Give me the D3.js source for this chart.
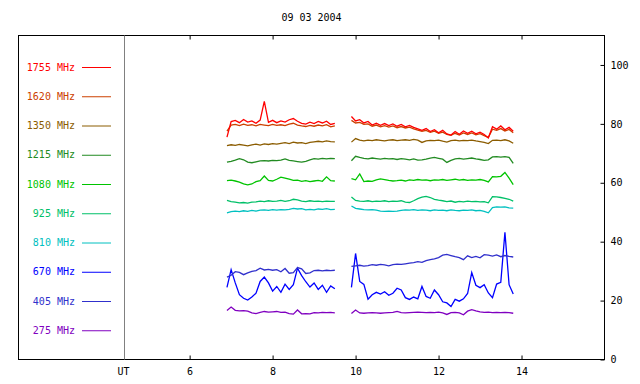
<!DOCTYPE html>
<html>
<head>
<meta charset="utf-8">
<script src="https://cdn.jsdelivr.net/npm/d3@7"></script>
<style>
  body { margin: 0; background: #fff; }
  svg { display: block; }
  text { font-family: "DejaVu Sans Mono", monospace; font-size: 10px; }
  .trace { fill: none; stroke-width: 1.3; }
</style>
</head>
<body>
<div id="chart"></div>
<script>
// sample times (UT hours) of the two recording blocks
var hoursA = d3.range(27).map(function(i) { return +(6.9 + i * 0.1).toFixed(1); });
var hoursB = d3.range(40).map(function(i) { return +(9.9 + i * 0.1).toFixed(1); });

var xTicks = [6, 8, 10, 12, 14];
var yTicks = [0, 20, 40, 60, 80, 100];
var title = "09 03 2004";

var freqs = ["1755", "1620", "1350", "1215", "1080", "925", "810", "670", "405", "275"];
var colors = ["#ff0000", "#cc4000", "#8b5c00", "#228b22", "#00c400", "#00c068", "#00c0c0", "#0000ff", "#3030cc", "#8000c0"];

// flux values per frequency, block A then block B
var mhz1755a = [75.5, 80.8, 81.2, 80.4, 81.5, 80.6, 81.0, 80.2, 81.3, 87.6, 80.5, 81.2, 80.4, 81.0, 80.6, 81.4, 81.8, 80.9, 80.2, 79.9, 80.6, 80.1, 80.8, 80.3, 80.9, 79.8, 80.2];
var mhz1755b = [82.5, 81.0, 81.4, 80.3, 80.8, 79.6, 80.2, 79.5, 80.1, 79.4, 80.0, 79.2, 79.8, 79.0, 79.5, 78.8, 78.3, 77.8, 78.4, 77.4, 78.0, 77.0, 77.8, 76.6, 76.2, 77.4, 76.5, 77.6, 76.8, 77.5, 76.6, 77.2, 76.4, 75.2, 79.0, 78.2, 79.3, 78.0, 78.8, 77.5];
var mhz1620a = [77.5, 79.6, 79.8, 79.4, 79.9, 79.5, 79.7, 79.3, 79.8, 79.6, 79.4, 79.8, 79.5, 79.7, 79.4, 79.9, 80.2, 79.6, 79.3, 79.1, 79.5, 79.2, 79.6, 79.3, 79.7, 79.0, 79.3];
var mhz1620b = [81.2, 80.3, 80.5, 79.8, 80.0, 79.2, 79.6, 79.0, 79.4, 78.9, 79.3, 78.7, 79.1, 78.6, 78.9, 78.3, 77.9, 77.5, 77.8, 77.1, 77.5, 76.8, 77.2, 76.4, 76.1, 76.8, 76.2, 76.9, 76.4, 76.9, 76.3, 76.7, 76.0, 75.4, 78.2, 77.8, 78.4, 77.6, 78.1, 77.0];
var mhz1350a = [72.6, 72.9, 72.7, 73.0, 72.8, 72.5, 72.9, 73.1, 72.8, 73.2, 73.0, 73.3, 73.1, 73.4, 73.6, 73.3, 73.8, 73.5, 73.6, 73.3, 73.7, 73.9, 74.1, 73.9, 74.2, 74.0, 73.9];
var mhz1350b = [73.8, 75.0, 74.5, 74.2, 74.5, 74.3, 74.6, 74.4, 74.2, 74.5, 74.6, 74.3, 74.5, 74.6, 74.4, 74.7, 74.5, 73.7, 74.2, 74.4, 74.3, 74.5, 74.1, 73.8, 74.3, 74.5, 74.2, 74.4, 74.3, 74.5, 74.2, 74.0, 73.7, 73.3, 74.4, 74.5, 74.3, 74.6, 74.2, 73.4];
var mhz1215a = [67.0, 67.3, 67.7, 68.2, 67.8, 67.0, 66.8, 67.1, 67.4, 67.5, 67.4, 67.6, 67.5, 67.7, 68.1, 67.6, 67.4, 67.2, 67.0, 67.3, 67.8, 68.2, 68.0, 68.3, 68.1, 68.3, 68.2];
var mhz1215b = [67.5, 69.0, 68.6, 68.3, 68.1, 68.4, 68.2, 68.0, 68.3, 68.1, 68.2, 67.9, 68.2, 68.0, 67.8, 68.1, 67.7, 67.8, 68.0, 68.4, 68.6, 68.3, 68.0, 66.9, 67.6, 68.1, 68.3, 68.0, 68.2, 68.4, 68.1, 67.9, 67.6, 67.8, 68.8, 68.9, 68.7, 68.9, 68.6, 66.6];
var mhz1080a = [60.7, 60.9, 60.6, 60.2, 59.6, 59.3, 59.6, 60.4, 60.7, 62.3, 60.8, 60.6, 61.2, 61.9, 61.6, 61.2, 60.8, 60.9, 60.5, 60.7, 60.4, 60.6, 60.8, 60.5, 62.0, 60.7, 60.6];
var mhz1080b = [61.4, 61.0, 63.0, 60.4, 60.6, 60.5, 61.0, 61.3, 61.1, 60.8, 60.6, 60.7, 60.9, 60.6, 61.0, 60.8, 61.1, 60.9, 61.0, 60.7, 61.0, 60.9, 61.1, 60.8, 61.0, 61.2, 60.9, 61.1, 60.8, 61.0, 60.9, 61.1, 60.8, 60.3, 62.1, 62.0, 62.2, 63.5, 61.6, 59.4];
var mhz925a = [54.0, 53.6, 53.4, 53.2, 53.3, 53.1, 53.4, 53.5, 53.8, 53.6, 53.9, 53.7, 53.8, 54.0, 53.7, 53.9, 54.4, 54.2, 53.8, 53.6, 53.9, 53.7, 53.8, 53.6, 53.8, 53.7, 53.7];
var mhz925b = [55.2, 54.0, 53.8, 53.7, 53.9, 53.6, 53.8, 53.7, 53.9, 53.6, 53.8, 53.7, 53.9, 53.4, 53.3, 53.9, 54.6, 55.1, 55.4, 55.0, 54.4, 54.1, 53.9, 53.6, 53.8, 53.4, 53.7, 53.5, 53.8, 53.6, 53.7, 53.5, 53.6, 53.2, 55.3, 55.2, 55.0, 54.7, 54.4, 53.8];
var mhz810a = [49.8, 50.2, 50.4, 50.2, 50.5, 50.3, 50.6, 50.4, 50.7, 50.8, 50.6, 50.9, 50.7, 50.9, 50.8, 51.0, 51.3, 51.1, 51.2, 50.8, 51.0, 50.8, 51.1, 51.0, 51.2, 50.9, 51.0];
var mhz810b = [52.1, 51.3, 51.1, 50.9, 50.8, 50.9, 50.7, 50.4, 50.3, 50.4, 50.3, 50.4, 50.6, 50.8, 50.7, 50.9, 50.6, 50.8, 50.7, 50.5, 50.8, 50.6, 50.7, 50.5, 50.8, 50.6, 50.5, 50.7, 50.6, 50.8, 50.5, 50.6, 50.3, 49.8, 51.6, 51.8, 51.7, 51.8, 51.5, 51.4];
var mhz670a = [24.5, 30.5, 26.0, 22.0, 20.8, 20.2, 21.2, 22.5, 26.5, 28.0, 26.0, 23.2, 24.8, 22.8, 25.6, 23.8, 25.4, 31.0, 28.5, 26.4, 24.6, 26.0, 23.8, 25.2, 22.8, 25.0, 24.0];
var mhz670b = [24.5, 36.0, 26.5, 25.5, 20.5, 22.0, 22.8, 22.2, 23.0, 21.8, 22.5, 24.2, 23.6, 21.0, 20.4, 21.2, 20.6, 24.8, 21.4, 20.8, 23.6, 22.0, 19.6, 19.2, 18.0, 20.4, 19.8, 20.6, 22.4, 29.5, 25.2, 24.4, 25.4, 22.6, 21.0, 25.6, 26.2, 43.2, 25.4, 22.2];
var mhz405a = [28.0, 28.6, 29.8, 29.6, 28.8, 29.4, 29.9, 30.2, 31.0, 30.4, 30.6, 30.3, 30.5, 29.8, 30.9, 29.3, 29.5, 31.2, 30.8, 29.2, 29.4, 30.2, 30.3, 30.1, 30.3, 30.2, 30.3];
var mhz405b = [31.6, 31.8, 32.0, 31.7, 31.9, 32.2, 32.0, 32.3, 32.1, 31.8, 32.2, 32.4, 32.3, 32.5, 32.7, 32.9, 33.2, 33.0, 33.6, 33.9, 34.2, 34.6, 35.4, 35.7, 35.3, 34.9, 34.6, 33.9, 35.2, 34.6, 35.0, 34.5, 35.6, 35.4, 35.1, 35.5, 34.9, 35.3, 35.0, 34.8];
var mhz275a = [16.6, 17.8, 16.7, 16.5, 16.6, 16.4, 15.8, 15.6, 16.0, 16.3, 16.1, 16.2, 16.3, 16.0, 16.1, 15.6, 15.4, 16.8, 15.5, 15.6, 15.5, 15.9, 15.8, 16.0, 15.9, 16.0, 15.8];
var mhz275b = [15.6, 16.8, 15.8, 15.7, 15.8, 15.9, 15.8, 15.7, 15.8, 15.9, 16.0, 16.3, 15.9, 15.8, 15.9, 16.0, 16.1, 16.0, 15.9, 16.0, 15.9, 16.1, 15.8, 15.3, 15.9, 16.0, 15.8, 15.2, 16.4, 16.9, 16.5, 16.2, 16.0, 16.1, 15.9, 16.0, 15.9, 16.0, 15.9, 15.7];

var blocksA = [mhz1755a, mhz1620a, mhz1350a, mhz1215a, mhz1080a, mhz925a, mhz810a, mhz670a, mhz405a, mhz275a];
var blocksB = [mhz1755b, mhz1620b, mhz1350b, mhz1215b, mhz1080b, mhz925b, mhz810b, mhz670b, mhz405b, mhz275b];

// drawing order: 1620 goes under 1755
var drawOrder = [1, 0, 2, 3, 4, 5, 6, 7, 8, 9];

var width = 640, height = 384;
var frame = {left: 18.5, right: 604.5, top: 35.5, bottom: 359.5};
var utX = 124.5;

var svg = d3.select("#chart").append("svg")
    .attr("width", width)
    .attr("height", height);

// setup scales
var xScale = d3.scaleLinear().domain([4.43, 16]).range([utX, frame.right]);
var yScale = d3.scaleLinear().domain([0, 110]).range([frame.bottom, frame.top]);

// title
svg.append("text")
    .attr("x", (frame.left + frame.right) / 2)
    .attr("y", 21)
    .style("text-anchor", "middle")
    .text(title);

// bottom axis, ticks pointing up
svg.append("g")
    .attr("transform", "translate(0," + frame.bottom + ")")
    .call(d3.axisBottom(xScale).tickValues(xTicks).tickSizeInner(-4).tickSizeOuter(0).tickPadding(8))
    .call(function(g) { g.select(".domain").remove(); });

// top axis, ticks only
svg.append("g")
    .attr("transform", "translate(0," + frame.top + ")")
    .call(d3.axisTop(xScale).tickValues(xTicks).tickSizeInner(-4).tickSizeOuter(0).tickFormat(""))
    .call(function(g) { g.select(".domain").remove(); });

// right axis, ticks inward, labels outside
svg.append("g")
    .attr("transform", "translate(" + frame.right + ",0)")
    .call(d3.axisRight(yScale).tickValues(yTicks).tickSizeInner(-4).tickSizeOuter(0).tickPadding(6))
    .call(function(g) { g.select(".domain").remove(); });

svg.selectAll(".tick text").attr("fill", "#000").style("font-size", "10px")
    .style("font-family", "'DejaVu Sans Mono', monospace");
svg.selectAll(".tick line").attr("stroke", "#000");

// frame
svg.append("rect")
    .attr("x", frame.left)
    .attr("y", frame.top)
    .attr("width", frame.right - frame.left)
    .attr("height", frame.bottom - frame.top)
    .attr("fill", "none")
    .attr("stroke", "#000")
    .attr("stroke-width", 1);

// UT separator line
svg.append("line")
    .attr("x1", utX).attr("x2", utX)
    .attr("y1", frame.top).attr("y2", frame.bottom)
    .attr("stroke", "#808080");

svg.append("text")
    .attr("x", utX - 1)
    .attr("y", 375)
    .style("text-anchor", "middle")
    .text("UT");

// legend
var legend = svg.selectAll(".legend")
    .data(freqs)
  .enter().append("g")
    .attr("class", "legend")
    .attr("transform", function(d, i) { return "translate(0," + (67 + i * 29.25) + ")"; });

legend.append("text")
    .attr("x", 75)
    .attr("dy", ".35em")
    .style("text-anchor", "end")
    .attr("fill", function(d, i) { return colors[i]; })
    .text(function(d) { return d + " MHz"; });

legend.append("line")
    .attr("x1", 82).attr("x2", 111)
    .attr("y1", 0.5).attr("y2", 0.5)
    .attr("stroke", function(d, i) { return colors[i]; });

// draw traces
var line = d3.line()
    .x(function(d) { return xScale(d[0]); })
    .y(function(d) { return yScale(d[1]); });

drawOrder.forEach(function(i) {
  [[hoursA, blocksA[i]], [hoursB, blocksB[i]]].forEach(function(blk) {
    svg.append("path")
        .datum(d3.zip(blk[0], blk[1]))
        .attr("class", "trace")
        .attr("stroke", colors[i])
        .attr("d", line);
  });
});
</script>
</body>
</html>
